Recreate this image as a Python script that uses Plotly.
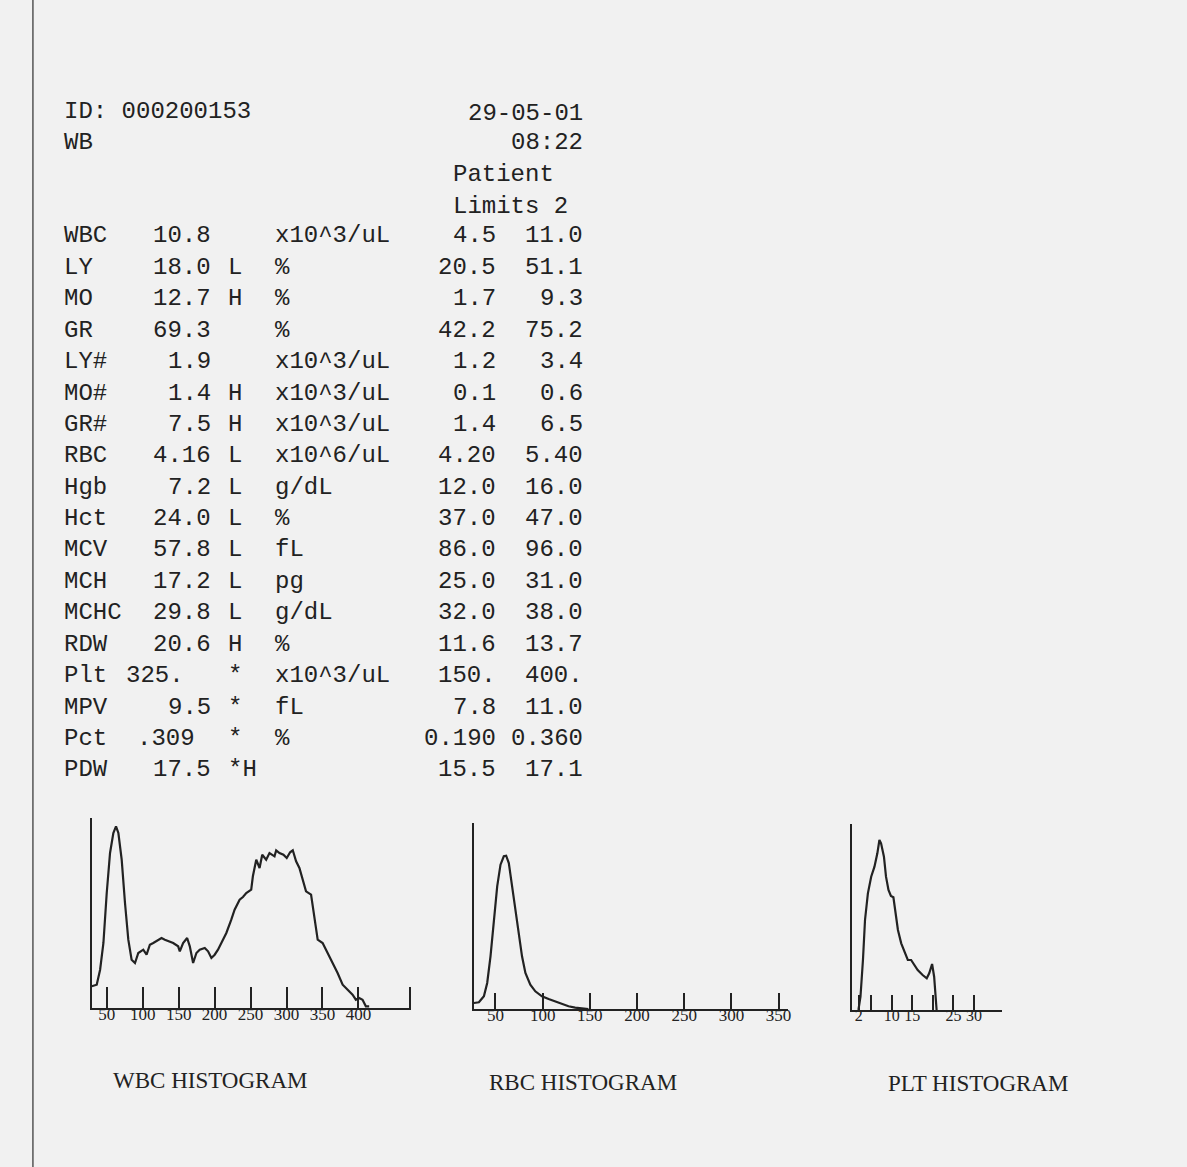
import plotly.graph_objects as go

W, H = 1187, 1167
INK = "#222222"
BG = "#f1f1f1"
MONO = "Liberation Mono, DejaVu Sans Mono, monospace"
NARROW = "Liberation Sans Narrow, Liberation Serif, serif"
SERIF = "Liberation Serif, serif"

# ---------------- report header ----------------
sample_id = "ID: 000200153"
sample_type = "WB"
report_date = "29-05-01"
report_time = "08:22"
limits_title = ["Patient", "Limits 2"]

# ---------------- report rows ----------------
names = ["WBC", "LY", "MO", "GR", "LY#", "MO#", "GR#", "RBC", "Hgb", "Hct",
         "MCV", "MCH", "MCHC", "RDW", "Plt", "MPV", "Pct", "PDW"]
values = ["10.8", "18.0", "12.7", "69.3", "1.9", "1.4", "7.5", "4.16", "7.2", "24.0",
          "57.8", "17.2", "29.8", "20.6", "325.", "9.5", ".309", "17.5"]
flags = ["", "L", "H", "", "", "H", "H", "L", "L", "L",
         "L", "L", "L", "H", "*", "*", "*", "*H"]
units = ["x10^3/uL", "%", "%", "%", "x10^3/uL", "x10^3/uL", "x10^3/uL", "x10^6/uL", "g/dL", "%",
         "fL", "pg", "g/dL", "%", "x10^3/uL", "fL", "%", ""]
low_limits = ["4.5", "20.5", "1.7", "42.2", "1.2", "0.1", "1.4", "4.20", "12.0", "37.0",
              "86.0", "25.0", "32.0", "11.6", "150.", "7.8", "0.190", "15.5"]
high_limits = ["11.0", "51.1", "9.3", "75.2", "3.4", "0.6", "6.5", "5.40", "16.0", "47.0",
               "96.0", "31.0", "38.0", "13.7", "400.", "11.0", "0.360", "17.1"]

# ---------------- histograms ----------------
wbc_x = [29.2, 36.1, 40.8, 45.4, 50.0, 54.6, 59.2, 62.9, 66.2, 70.8, 75.4, 80.0, 84.6, 89.3,
         93.9, 100.8, 105.4, 110.0, 114.7, 119.3, 126.2, 130.8, 135.5, 142.4, 149.3, 151.6,
         156.2, 161.8, 165.5, 170.1, 174.7, 179.3, 186.3, 190.9, 195.5, 200.1, 204.7, 209.4,
         216.3, 223.2, 227.8, 234.8, 239.4, 244.0, 250.9, 253.2, 257.9, 262.5, 266.2, 271.7,
         276.3, 283.3, 285.6, 290.2, 295.7, 300.3, 305.0, 308.7, 313.3, 317.9, 322.5, 327.1,
         334.1, 338.7, 343.3, 350.2, 357.2, 363.9, 371.0, 378.0, 384.9, 391.8, 396.4, 401.0,
         405.7, 410.3, 414.9]
wbc_y = [21.7, 23.3, 38.3, 65.0, 115.0, 155.0, 175.0, 181.7, 175.0, 148.3, 105.0, 68.3, 48.3, 45.0,
         55.0, 58.3, 53.3, 63.3, 65.0, 66.7, 70.0, 68.3, 66.7, 65.0, 61.7, 56.7,
         65.0, 70.0, 61.7, 45.0, 55.0, 58.3, 60.0, 56.7, 50.0, 53.3, 58.3, 65.0,
         75.0, 88.3, 98.3, 108.3, 111.0, 115.0, 118.3, 131.7, 148.3, 140.0, 153.3, 148.3,
         155.0, 151.7, 157.7, 155.0, 153.3, 150.0, 155.7, 157.7, 146.7, 140.0, 128.3, 116.7,
         113.3, 91.7, 68.3, 65.0, 55.0, 45.0, 35.0, 23.3, 18.3, 13.3, 8.3, 10.0,
         8.3, 1.7, 1.7]
wbc_ticks = [50, 100, 150, 200, 250, 300, 350, 400, 471]
wbc_labels = ["50", "100", "150", "200", "250", "300", "350", "400", ""]

rbc_x = [27.1, 32.4, 37.7, 41.2, 44.7, 48.2, 51.8, 55.3, 58.8, 61.3, 64.1, 67.6, 71.1, 74.6,
         78.1, 81.7, 86.9, 92.2, 99.2, 106.3, 113.3, 120.3, 127.4, 134.4, 145.0, 148.5]
rbc_y = [6.0, 6.7, 12.7, 26.0, 52.7, 89.3, 122.7, 144.3, 152.7, 153.3, 146.0, 122.7, 99.3, 72.7,
         52.7, 36.0, 24.3, 17.7, 12.7, 10.0, 7.7, 5.3, 2.7, 1.3, 0.7, 0.0]
rbc_ticks = [50, 100, 150, 200, 250, 300, 350]
rbc_labels = ["50", "100", "150", "200", "250", "300", "350"]

plt_x = [1.9, 2.4, 3.0, 3.5, 4.2, 5.0, 5.8, 6.5, 7.0, 7.4, 8.1, 8.6, 9.2, 9.8, 10.4, 10.8,
         11.5, 12.3, 13.1, 13.9, 14.7, 15.5, 16.3, 17.5, 18.5, 19.1, 19.8, 20.3, 20.6, 20.9]
plt_y = [0.0, 13.3, 50.0, 90.0, 116.7, 133.3, 143.3, 156.7, 170.0, 166.7, 153.3, 133.3, 120.0,
         114.0, 112.7, 100.0, 80.0, 66.7, 58.3, 50.0, 50.0, 45.0, 40.0, 35.0, 31.7, 36.7, 46.0,
         33.3, 10.0, 0.0]
plt_ticks = [2, 5, 10, 15, 20, 25, 30]
plt_labels = ["2", "", "10", "15", "", "25", "30"]

hist_titles = ["WBC HISTOGRAM", "RBC HISTOGRAM", "PLT HISTOGRAM"]


def px(x):
    return x / W


def py(y):
    return 1 - y / H


fig = go.Figure()
for i, (xs, ys) in enumerate([(wbc_x, wbc_y), (rbc_x, rbc_y), (plt_x, plt_y)]):
    suffix = "" if i == 0 else str(i + 1)
    fig.add_trace(go.Scatter(x=xs, y=ys, mode="lines", xaxis="x" + suffix, yaxis="y" + suffix,
                             line=dict(color=INK, width=2.2), hoverinfo="skip"))

# panel geometry in page pixels: (left, right, baseline, top, x range, y top, tick length)
panels = [
    (92, 412, 1008, 818, [29.2, 473], 190, 21, wbc_ticks, wbc_labels, 17),
    (475, 790, 1009, 823, [27, 360], 186, 16, rbc_ticks, rbc_labels, 17),
    (854, 1005, 1010, 824, [0.3, 36.9], 186, 15, plt_ticks, plt_labels, 16),
]

layout = dict(width=W, height=H, margin=dict(l=0, r=0, t=0, b=0),
              paper_bgcolor=BG, plot_bgcolor=BG, showlegend=False)
for i, (l, r, b, t, xr, ytop, tl, tv, tt, fs) in enumerate(panels):
    suffix = "" if i == 0 else str(i + 1)
    layout["xaxis" + suffix] = dict(
        domain=[px(l), px(r)], range=xr, anchor="y" + suffix,
        showline=True, linecolor=INK, linewidth=2, showgrid=False, zeroline=False,
        ticks="inside", ticklen=tl, tickwidth=2, tickcolor=INK,
        tickmode="array", tickvals=tv, ticktext=tt, ticklabelstandoff=-10,
        tickfont=dict(family=NARROW, size=fs, color=INK), fixedrange=True)
    layout["yaxis" + suffix] = dict(
        domain=[py(b), py(t)], range=[0, ytop], anchor="x" + suffix,
        showline=True, linecolor=INK, linewidth=2, showgrid=False, zeroline=False,
        showticklabels=False, ticks="", fixedrange=True)
fig.update_layout(**layout)

annotations = []


def txt(s, x, y, anchor="left", size=24, family=MONO):
    if not s:
        return
    annotations.append(dict(text=s, x=px(x), y=py(y), xref="paper", yref="paper",
                            xanchor=anchor, yanchor="middle", showarrow=False,
                            font=dict(family=family, size=size, color=INK)))


txt(sample_id, 62, 112)
txt(report_date, 586, 113, "right")
txt(sample_type, 62, 142)
txt(report_time, 586, 143, "right")
txt(limits_title[0], 452, 174)
txt(limits_title[1], 452, 206)

value_end = {"Plt": 186, "Pct": 197}
for k, name in enumerate(names):
    y = 236 + 31.4 * k
    txt(name, 62, y)
    txt(values[k], value_end.get(name, 214), y, "right")
    txt(flags[k], 227, y)
    txt(units[k], 274, y)
    txt(low_limits[k], 499, y, "right")
    txt(high_limits[k], 586, y, "right")

for title, cx, cy in zip(hist_titles, [211, 584, 980], [1080, 1082, 1083]):
    txt(title, cx, cy, "center", size=23, family=SERIF)

fig.update_layout(annotations=annotations)

# scan edge line on the left side of the page
fig.add_shape(type="line", xref="paper", yref="paper", x0=px(33), x1=px(33), y0=0, y1=1,
              line=dict(color="#555555", width=1.5))

fig.write_html("out.html", config={"displayModeBar": False},
               post_script="document.body.style.margin='0';document.body.style.background='%s';" % BG)
